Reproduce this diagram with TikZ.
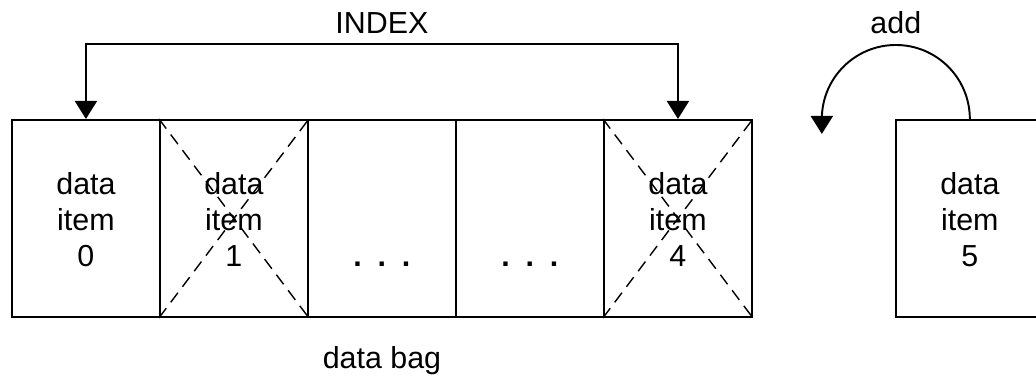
\documentclass[tikz,border=0pt]{standalone}
\usepackage{fontspec}
\setmainfont{Liberation Sans}
\usetikzlibrary{matrix,positioning,arrows.meta}

\newcommand{\cellstack}[3]{\begin{tabular}{@{}c@{}}\rule{0pt}{20.3pt}#1\\#2\\#3\end{tabular}}
\newcommand{\gap}{\hspace{9pt}}

\begin{document}
\begin{tikzpicture}[
font=\fontsize{17.3pt}{20.5pt}\selectfont,
line width=1.1pt,
itembox/.style={draw, anchor=center, minimum width=2.96cm, minimum height=3.94cm},
table/.style={matrix of nodes, inner sep=0pt, column sep=-\pgflinewidth, nodes={itembox}},
cross/.style={dashed, line width=0.8pt, dash pattern=on 0.24cm off 0.15cm},
pointer/.style={{Triangle[width=0.44cm,length=0.36cm]}-{Triangle[width=0.44cm,length=0.36cm]}},
addarrow/.style={-{Triangle[width=0.44cm,length=0.36cm]}}]

\useasboundingbox (0,0) rectangle (20.72,-7.58);

\matrix (Bag) [table, anchor=north west] at (0.2,-2.36) {
    \cellstack{data}{item}{0} & \cellstack{data}{item}{1} & \cellstack{}{}{\textbf{.\gap.\gap.}} & \cellstack{}{}{\textbf{.\gap.\gap.}} & \cellstack{data}{item}{4} \\};

\node[itembox, right=2.82cm of Bag] (Extra) {\cellstack{data}{item}{5}};

\node[below=0.44cm of Bag-1-3] (BagName) {data bag};

% removed items
\foreach \c in {2,5} {
    \draw[cross] (Bag-1-\c.north west)--(Bag-1-\c.south east);
    \draw[cross] (Bag-1-\c.south west)--(Bag-1-\c.north east);
}

\draw[pointer] (Bag-1-1.north)--++(0,1.5)-|(Bag-1-5.north);
\path (Bag-1-3.north) ++(0,1.7) node[anchor=base] (Index) {INDEX};

\draw[addarrow] (Extra.north) arc[start angle=0, end angle=180, radius=1.48] -- ++(0,-0.3) coordinate (AddEnd);
\path (Extra.north) ++(-1.48,1.7) node[anchor=base] (Add) {add};

\end{tikzpicture}
\end{document}
